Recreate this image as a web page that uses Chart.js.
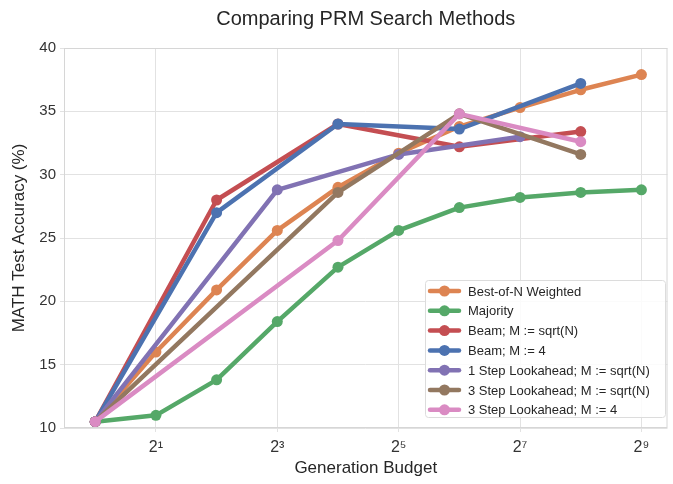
<!DOCTYPE html>
<html>
<head>
<meta charset="utf-8">
<script src="https://cdn.jsdelivr.net/npm/chart.js@4.4.1/dist/chart.umd.min.js"></script>
<style>
  html, body { margin: 0; padding: 0; background: #fff; }
  #wrap { width: 673px; height: 484px; }
</style>
</head>
<body>
<div id="wrap"><canvas id="chart" width="673" height="484"></canvas></div>
<script>
// --- data ---
const budgets = [1, 2, 4, 8, 16, 32, 64, 128, 256, 512];
const bestOfN = [10.5, 16.0, 20.9, 25.6, 29.0, 31.7, 33.8, 35.3, 36.7, 37.9];
const majority = [10.5, 11.0, 13.8, 18.4, 22.7, 25.6, 27.4, 28.2, 28.6, 28.8];

const beamBudgets = [1, 4, 16, 64, 256];
const beamSqrt = [10.5, 28.0, 34.0, 32.2, 33.4];
const beamFour = [10.5, 27.0, 34.0, 33.6, 37.2];

const look1Budgets = [1, 8, 32, 128];
const look1Sqrt = [10.5, 28.8, 31.6, 33.0];

const look3Budgets = [1, 16, 64, 256];
const look3Sqrt = [10.5, 28.6, 34.8, 31.6];
const look3Four = [10.5, 24.8, 34.8, 32.6];

const xTickExps = [1, 3, 5, 7, 9];
const yTicks = [10, 15, 20, 25, 30, 35, 40];

const labels = [
  'Best-of-N Weighted', 'Majority', 'Beam; M := sqrt(N)', 'Beam; M := 4',
  '1 Step Lookahead; M := sqrt(N)', '3 Step Lookahead; M := sqrt(N)', '3 Step Lookahead; M := 4'
];
const colors = ['#DD8452', '#55A868', '#C44E52', '#4C72B0', '#8172B3', '#937860', '#DA8BC3'];

const sup = { 1: '\u00B9', 3: '\u00B3', 5: '\u2075', 7: '\u2077', 9: '\u2079' };
const FONT = "'Liberation Sans', Arial, sans-serif";

function pts(xs, ys) {
  return xs.map((x, i) => ({ x: x, y: ys[i] }));
}

const seriesData = [
  pts(budgets, bestOfN), pts(budgets, majority),
  pts(beamBudgets, beamSqrt), pts(beamBudgets, beamFour),
  pts(look1Budgets, look1Sqrt),
  pts(look3Budgets, look3Sqrt), pts(look3Budgets, look3Four)
];

const datasets = seriesData.map((d, i) => ({
  label: labels[i],
  data: d,
  borderColor: colors[i],
  backgroundColor: colors[i],
  borderWidth: 4.5,
  pointRadius: 5.5,
  pointHoverRadius: 5.5,
  pointBorderWidth: 0,
  borderJoinStyle: 'round',
  borderCapStyle: 'round',
  order: labels.length - i   // later series on top
}));

// frame, title and the in-plot legend
const extras = {
  id: 'extras',
  afterDraw(chart) {
    const ctx = chart.ctx;
    const a = chart.chartArea;
    ctx.save();
    ctx.strokeStyle = '#d6d6d6';
    ctx.lineWidth = 1;
    ctx.strokeRect(a.left + 0.5, a.top + 0.5, a.right - a.left - 1, a.bottom - a.top - 1);

    ctx.fillStyle = '#262626';
    ctx.font = '20px ' + FONT;
    ctx.textAlign = 'center';
    ctx.textBaseline = 'middle';
    ctx.fillText('Comparing PRM Search Methods', (a.left + a.right) / 2, 19);

    // legend box
    const bx = 425, by = 280, bw = 240, bh = 137;
    ctx.fillStyle = 'rgba(255,255,255,0.85)';
    ctx.strokeStyle = '#dcdcdc';
    ctx.beginPath();
    ctx.roundRect(bx + 0.5, by + 0.5, bw, bh, 3);
    ctx.fill();
    ctx.stroke();

    ctx.font = '13px ' + FONT;
    ctx.textAlign = 'left';
    labels.forEach((lab, i) => {
      const y = by + 11 + i * 19.8;
      ctx.strokeStyle = colors[i];
      ctx.lineWidth = 4.5;
      ctx.lineCap = 'round';
      ctx.beginPath();
      ctx.moveTo(430, y);
      ctx.lineTo(459, y);
      ctx.stroke();
      ctx.fillStyle = colors[i];
      ctx.beginPath();
      ctx.arc(444.5, y, 5.5, 0, Math.PI * 2);
      ctx.fill();
      ctx.fillStyle = '#262626';
      ctx.fillText(lab, 468, y + 1);
    });
    ctx.restore();
  }
};

new Chart(document.getElementById('chart'), {
  type: 'line',
  data: { datasets: datasets },
  options: {
    responsive: false,
    animation: false,
    layout: { padding: { top: 48, right: 3, left: 0, bottom: 0 } },
    plugins: {
      legend: { display: false },
      title: { display: false },
      tooltip: { enabled: false }
    },
    scales: {
      x: {
        type: 'logarithmic',
        min: Math.pow(2, -0.46),
        max: Math.pow(2, 9.43),
        afterBuildTicks(scale) {
          scale.ticks = xTickExps.map(e => ({ value: Math.pow(2, e) }));
        },
        afterFit(scale) { scale.height = 56; },
        grid: { color: '#e2e2e2', lineWidth: 1, tickLength: 4, drawOnChartArea: true },
        border: { display: false },
        ticks: {
          autoSkip: false,
          maxRotation: 0,
          color: '#333',
          font: { family: FONT, size: 16 },
          padding: 6,
          callback: (v) => '2' + sup[Math.round(Math.log2(v))]
        },
        title: {
          display: true,
          text: 'Generation Budget',
          color: '#262626',
          font: { family: FONT, size: 17 },
          padding: { top: 4, bottom: 5 }
        }
      },
      y: {
        min: 10,
        max: 40,
        afterBuildTicks(scale) {
          scale.ticks = yTicks.map(v => ({ value: v }));
        },
        afterFit(scale) { scale.width = 64; },
        grid: { color: '#e2e2e2', lineWidth: 1, tickLength: 4 },
        border: { display: false },
        ticks: {
          color: '#333',
          font: { family: FONT, size: 15 },
          padding: 4
        },
        title: {
          display: true,
          text: 'MATH Test Accuracy (%)',
          color: '#262626',
          font: { family: FONT, size: 17 },
          padding: { top: 9, bottom: 0 }
        }
      }
    }
  },
  plugins: [extras]
});
</script>
</body>
</html>
